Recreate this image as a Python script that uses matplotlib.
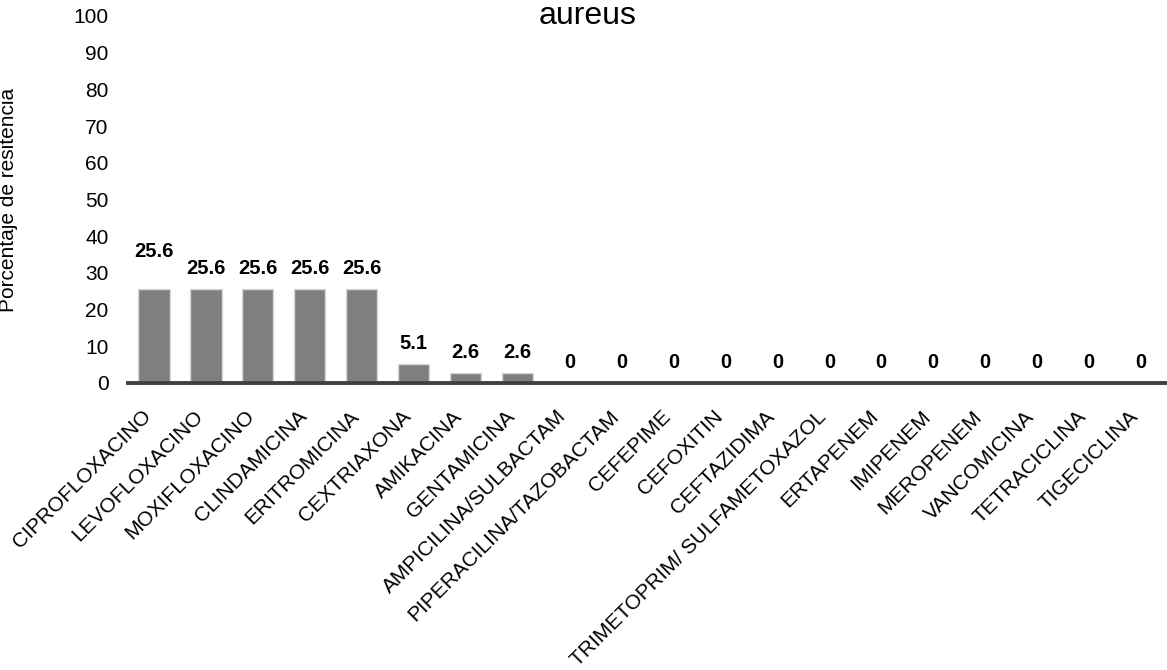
import matplotlib
matplotlib.use("Agg")
import matplotlib.pyplot as plt
from matplotlib.transforms import ScaledTranslation

plt.rcParams['font.family'] = ['Liberation Sans', 'DejaVu Sans']

antibioticos = [
    "CIPROFLOXACINO", "LEVOFLOXACINO", "MOXIFLOXACINO", "CLINDAMICINA",
    "ERITROMICINA", "CEXTRIAXONA", "AMIKACINA", "GENTAMICINA",
    "AMPICILINA/SULBACTAM", "PIPERACILINA/TAZOBACTAM", "CEFEPIME",
    "CEFOXITIN", "CEFTAZIDIMA", "TRIMETOPRIM/ SULFAMETOXAZOL", "ERTAPENEM",
    "IMIPENEM", "MEROPENEM", "VANCOMICINA", "TETRACICLINA", "TIGECICLINA",
]
resistencia = [25.6, 25.6, 25.6, 25.6, 25.6, 5.1, 2.6, 2.6,
               0, 0, 0, 0, 0, 0, 0, 0, 0, 0, 0, 0]
etiquetas = ["25.6", "25.6", "25.6", "25.6", "25.6", "5.1", "2.6", "2.6",
             "0", "0", "0", "0", "0", "0", "0", "0", "0", "0", "0", "0"]
yticks = [0, 10, 20, 30, 40, 50, 60, 70, 80, 90, 100]

W, H = 1167, 670
fig = plt.figure(figsize=(W / 100, H / 100), dpi=100)
ax = fig.add_axes([128 / W, 1 - 383 / H, (W - 128) / W, (383 - 16) / H])

x = list(range(len(antibioticos)))
ax.bar(x, resistencia, width=0.6, color="#7f7f7f", edgecolor="#d9d9d9",
       linewidth=1.0, zorder=2)

# the first data label sits a little higher than the rest
elevacion_extra = {0: 12}
for xi, v, lab in zip(x, resistencia, etiquetas):
    dy = 15 + elevacion_extra.get(xi, 0)
    ax.annotate(lab, (xi, v), xytext=(0, dy), textcoords="offset points",
                ha="center", va="center", fontsize=14.5, fontweight="bold",
                color="black")

ax.set_xlim(-0.5, len(antibioticos) - 0.5)
ax.set_ylim(0, 100)
ax.set_yticks(yticks)
ax.set_yticklabels([str(t) for t in yticks], fontsize=15)
ax.set_xticks(x)
ax.set_xticklabels(antibioticos, rotation=45, ha="right", va="center",
                   rotation_mode="anchor", fontsize=15)
ax.tick_params(axis="y", length=0, pad=14)
ax.tick_params(axis="x", length=0, pad=22)

# nudge the slanted category labels slightly to the left
shift = ScaledTranslation(-6 / 100, 0, fig.dpi_scale_trans)
for lbl in ax.get_xticklabels():
    lbl.set_transform(lbl.get_transform() + shift)

for side in ("top", "right", "left"):
    ax.spines[side].set_visible(False)
ax.spines["bottom"].set_color("#404040")
ax.spines["bottom"].set_linewidth(2.8)
ax.spines["bottom"].set_zorder(3)

ax.set_ylabel("Porcentaje de resitencia", fontsize=15, labelpad=0)
ax.yaxis.set_label_coords(-(128 - 18) / (W - 128), 0.5)

fig.text(588 / W, 1 - 24 / H, "aureus", ha="center", va="baseline",
         fontsize=23)

fig.savefig("out.png", dpi=100)
